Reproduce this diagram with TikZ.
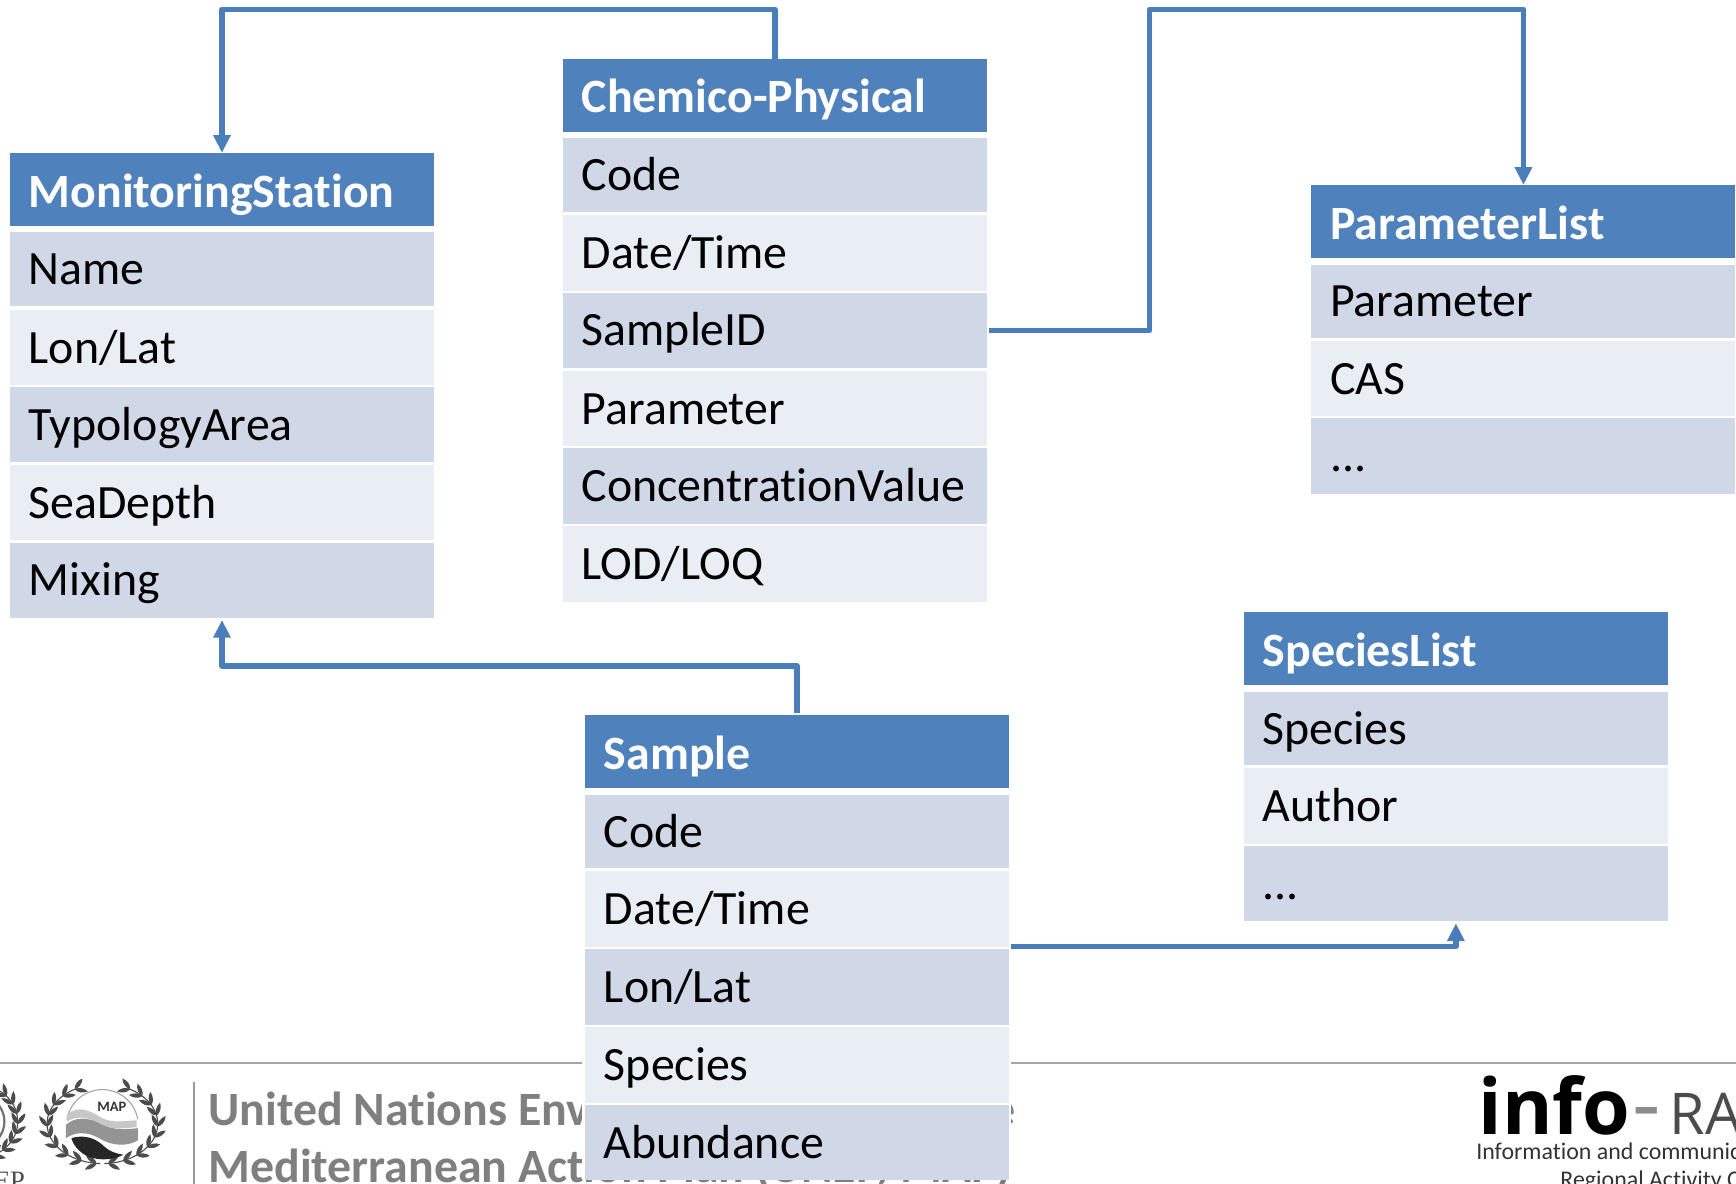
\documentclass[tikz,border=0pt]{standalone}
\usepackage{fontspec}
\setmainfont[RawFeature={-liga}]{Carlito}
\newfontfamily\opensans{Open Sans}
\newfontfamily\logoserif{Liberation Serif}
\usetikzlibrary{arrows.meta,calc}
\definecolor{hdrblue}{HTML}{4F81BD}
\definecolor{rowdark}{HTML}{D0D8E8}
\definecolor{rowlight}{HTML}{E9EDF4}
\definecolor{linkblue}{HTML}{4A7EBB}
\definecolor{foot}{HTML}{7F7F7F}
\newcommand{\leafshape}[3]{% x, y, angle
 \fill[black!70,shift={(#1,#2)},rotate=#3] (0,0) .. controls (3,2.6) and (8,2.6) .. (12,0) .. controls (8,-2.6) and (3,-2.6) .. (0,0) -- cycle;}
\newcommand{\wreathbranch}[2]{% x radius, y radius
 \draw[black!70,line width=0.5pt] plot[domain=-62:88,samples=30,smooth] ({#1*cos(\x)},{#2*sin(\x)});
 \foreach \a in {-60,-44,...,84}{
  \pgfmathsetmacro{\px}{#1*cos(\a)}
  \pgfmathsetmacro{\py}{#2*sin(\a)}
  \pgfmathsetmacro{\th}{atan2(#2*cos(\a),#1*sin(\a))}
  \leafshape{\px}{\py}{\th-32}
  \leafshape{\px}{\py}{\th+32}
 }}
\tikzset{
 x=0.5pt,y=-0.5pt,
 tablecell/.style={anchor=north west,inner sep=0pt,outer sep=0pt,minimum width=191.5pt,text width=174.5pt,inner xsep=8.5pt,align=left,text height=16.5pt,text depth=2.5pt},
 hdr/.style={tablecell,fill=hdrblue,text=white,font=\fontsize{21.6}{24}\bfseries\selectfont,minimum height=33pt,text height=17.5pt,text depth=1.5pt},
 rowd/.style={tablecell,fill=rowdark,text=black,font=\fontsize{21.6}{24}\selectfont,minimum height=34pt},
 rowl/.style={rowd,fill=rowlight},
 firstrow/.style={rowd,minimum height=33.2pt},
 link/.style={draw=linkblue,line width=2.4pt,line join=round,-{Triangle[length=8pt,width=7.5pt]}},
 foottext/.style={anchor=base west,inner sep=0pt,text=foot,font=\fontsize{21.6}{24}\bfseries\selectfont},
 smalltext/.style={anchor=base west,inner sep=0pt,text=black!80,font=\fontsize{10.8}{13}\selectfont},
}
\begin{document}
\begin{tikzpicture}
\clip (0,0) rectangle (1568,1069);
\fill[white] (0,0) rectangle (1568,1069);

% footer
\draw[black!35,line width=1pt] (0,960) -- (1568,960);
\draw[black!40,line width=0.9pt] (175,977) -- (175,1069);
\node[foottext] (un) at (188,1017) {United Nations Environment Programme};
\node[foottext] (med) at (188,1068) {Mediterranean Action Plan (UNEP/MAP)};
\node[anchor=base west,inner sep=0pt,font=\opensans\fontsize{34.8}{36}\bfseries\selectfont] (inf) at (1335,1025) {info{\hspace{1pt}\fontsize{40}{36}\mdseries\color{black!45}-\hspace{4pt}}{\fontsize{26}{36}\mdseries\color{black!70}RAC}};
\node[smalltext] (ic) at (1333,1047) {Information and communication};
\node[smalltext] (ra) at (1409,1073) {Regional Activity Centre};

% MAP emblem
\begin{scope}[shift={(92.5,1015)}]
 \begin{scope}\wreathbranch{50}{36}\end{scope}
 \begin{scope}[xscale=-1]\wreathbranch{50}{36}\end{scope}
 \draw[black!35,line width=0.5pt] (-32,-4) arc[start angle=-170,end angle=-10,radius=32.5];
 \fill[black!22] (-32,-8) .. controls (-22,-18) and (-10,-11) .. (0,-5) .. controls (10,0) and (22,-3) .. (31,-3) -- (31,3) .. controls (20,4) and (8,6) .. (-3,0) .. controls (-14,-7) and (-24,-7) .. (-32,-2) -- cycle;
 \fill[black!42] (-33,1) .. controls (-24,-7) and (-12,-6) .. (0,1) .. controls (10,6) and (22,5) .. (32,4) -- (32,15) .. controls (22,21) and (8,20) .. (-3,13) .. controls (-14,7) and (-24,7) .. (-33,13) -- cycle;
 \fill[black!85] (-28,13) .. controls (-18,10) and (-8,12) .. (0,19) .. controls (6,25) and (12,27) .. (19,28) .. controls (8,34) and (-8,33) .. (-16,28) .. controls (-22,24) and (-26,20) .. (-28,13) -- cycle;
 \node[inner sep=0pt,font=\fontsize{6.5}{7}\bfseries\selectfont,text=black!80] (maplabel) at (8.5,-15) {MAP};
\end{scope}

% UN emblem
\begin{scope}[shift={(-20,1013)}]
 \wreathbranch{36}{33}
 \draw[black!55,line width=1pt] (0,0) circle [radius=24];
\end{scope}
\node[anchor=base east,inner sep=0pt,text=black!70,font=\logoserif\fontsize{12}{14}\selectfont] (unep) at (23,1074) {UNEP};

% white ground under the Sample table
\fill[white] (526,950) rectangle (913,1065);

% tables
\begin{scope}[xshift=0.25pt]
\node[hdr] (msH) at (8.5,138) {MonitoringStation};
\node[firstrow] (ms1) at (8.5,210) {Name};
\node[rowl] (ms2) at (8.5,280) {Lon/Lat};
\node[rowd] (ms3) at (8.5,349.5) {TypologyArea};
\node[rowl] (ms4) at (8.5,420) {SeaDepth};
\node[rowd] (ms5) at (8.5,490) {Mixing};

\node[hdr] (chH) at (508,53) {Chemico-Physical};
\node[firstrow] (ch1) at (508,125) {Code};
\node[rowl] (ch2) at (508,194.5) {Date/Time};
\node[rowd] (ch3) at (508,264.5) {SampleID};
\node[rowl] (ch4) at (508,335) {Parameter};
\node[rowd] (ch5) at (508,405) {ConcentrationValue};
\node[rowl] (ch6) at (508,475.5) {LOD/LOQ};

\node[hdr] (paH) at (1184,167) {ParameterList};
\node[firstrow] (pa1) at (1184,239) {Parameter};
\node[rowl] (pa2) at (1184,308) {CAS};
\node[rowd] (pa3) at (1184,378) {...};

\node[hdr] (spH) at (1123,553) {SpeciesList};
\node[firstrow] (sp1) at (1123,625) {Species};
\node[rowl] (sp2) at (1123,694) {Author};
\node[rowd] (sp3) at (1123,764) {...};

\node[hdr] (saH) at (528,646) {Sample};
\node[firstrow] (sa1) at (528,718) {Code};
\node[rowl] (sa2) at (528,787) {Date/Time};
\node[rowd] (sa3) at (528,857.5) {Lon/Lat};
\node[rowl] (sa4) at (528,928) {Species};
\node[rowd] (sa5) at (528,998) {Abundance};
\end{scope}

% connectors
\draw[link] (chH.north) -- ++(0,-44.5) coordinate (c1) -| (msH.north);
\draw[link] (ch3.east) ++(2,0) coordinate (c2) -- ++(145,0) coordinate (c3) |- (1376,8.5) coordinate (c4) -- (paH.north);
\draw[link] (saH.north) ++(0,-2) coordinate (c5) -- ++(0,-42.5) coordinate (c6) -| ($(ms5.south)+(0,2)$);
\draw[link] ($(sa2.south east)+(2,0)$) coordinate (c7) -| ($(sp3.south)+(0,2)$);
\end{tikzpicture}
\end{document}
